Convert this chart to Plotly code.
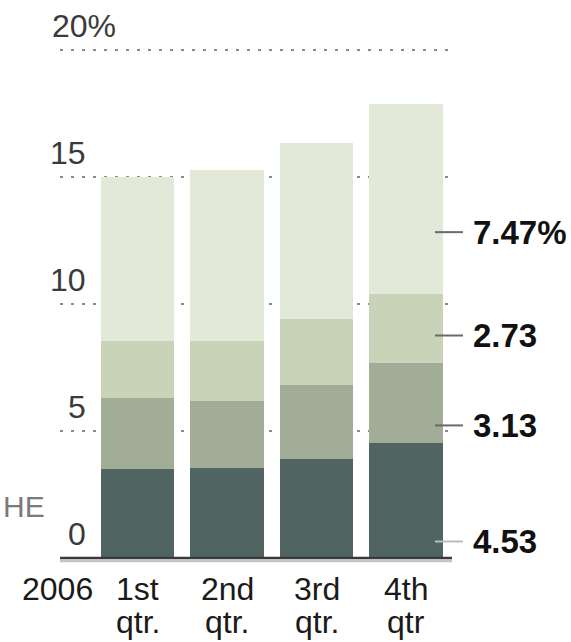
import plotly.graph_objects as go

# ---- data ----
quarters = ["1st", "2nd", "3rd", "4th"]
quarter_line2 = ["qtr.", "qtr.", "qtr.", "qtr"]
year_label = "2006"
seg_bottom = [3.49, 3.54, 3.89, 4.53]
seg_second = [2.80, 2.64, 2.92, 3.13]
seg_third = [2.27, 2.35, 2.59, 2.73]
seg_top = [6.45, 6.75, 6.95, 7.47]
y_ticks = [0, 5, 10, 15, 20]
y_tick_text = ["0", "5", "10", "15", "20%"]
right_labels = ["7.47%", "2.73", "3.13", "4.53"]

# ---- layout helpers (positions / styles) ----
right_label_y = [12.83, 8.76, 5.22, 0.65]
right_tick_colors = ["#6a6a6a", "#6a6a6a", "#6a6a6a", "#bdbdbd"]
colors = ["#506462", "#a1ad96", "#c8d3b8", "#e2e9d8"]
FONT = "Liberation Sans, Arial, Helvetica, sans-serif"

W, H = 571, 642
L, R, T, B = 60, 119, 48, 84
pw = W - L - R
ph = H - T - B


def px_x(p):
    return (p - L) / pw


def px_y(p):
    return (H - B - p) / ph


fig = go.Figure()
for vals, col in zip([seg_bottom, seg_second, seg_third, seg_top], colors):
    fig.add_trace(go.Bar(x=quarters, y=vals, marker=dict(color=col, line=dict(width=0)),
                         width=0.816, hoverinfo="skip"))

ann = []
# y tick labels above gridlines
for v, t in zip(y_ticks, y_tick_text):
    if t.endswith("%"):
        ann.append(dict(x=px_x(50), xref="paper", xanchor="left", y=v, yref="y",
                        yanchor="middle", yshift=24, text=t, showarrow=False,
                        font=dict(family=FONT, size=32, color="#3a3a3a")))
    else:
        ann.append(dict(x=px_x(88), xref="paper", xanchor="right", y=v, yref="y",
                        yanchor="middle", yshift=24, text=t, showarrow=False,
                        font=dict(family=FONT, size=32, color="#3a3a3a")))

# x labels (two lines)
for q, q2 in zip(quarters, quarter_line2):
    ann.append(dict(x=q, xref="x", xanchor="center", y=px_y(589), yref="paper",
                    yanchor="middle", text=q, showarrow=False,
                    font=dict(family=FONT, size=32, color="#1a1a1a")))
    ann.append(dict(x=q, xref="x", xanchor="center", y=px_y(622), yref="paper",
                    yanchor="middle", text=q2, showarrow=False,
                    font=dict(family=FONT, size=32, color="#1a1a1a")))
ann.append(dict(x=px_x(95), xref="paper", xanchor="right", y=px_y(589), yref="paper",
                yanchor="middle", text=year_label, showarrow=False,
                font=dict(family=FONT, size=32, color="#1a1a1a")))

# partial word at left edge
ann.append(dict(x=px_x(1), xref="paper", xanchor="left", y=px_y(506), yref="paper",
                yanchor="middle", text="HE", showarrow=False,
                font=dict(family=FONT, size=30, color="#7a7a7a")))

shapes = []
# right labels with tick marks
for lbl, ly, tc in zip(right_labels, right_label_y, right_tick_colors):
    ann.append(dict(x=px_x(471), xref="paper", xanchor="left", y=ly, yref="y",
                    yanchor="middle", text="<b>%s</b>" % lbl, showarrow=False,
                    font=dict(family=FONT, size=33, color="#111111")))
    shapes.append(dict(type="line", xref="paper", yref="y", x0=px_x(435), x1=px_x(463),
                       y0=ly, y1=ly, line=dict(color=tc, width=2)))

# baseline
shapes.append(dict(type="line", xref="paper", yref="paper", x0=0, x1=1,
                   y0=px_y(561), y1=px_y(561), line=dict(color="#c4c4c4", width=2.5)))
shapes.append(dict(type="line", xref="paper", yref="paper", x0=0, x1=1,
                   y0=px_y(558), y1=px_y(558), line=dict(color="#3a3a3a", width=2.5)))

fig.update_layout(
    width=W, height=H,
    margin=dict(l=L, r=R, t=T, b=B, pad=0),
    barmode="stack", bargap=0,
    showlegend=False,
    paper_bgcolor="white", plot_bgcolor="white",
    annotations=ann, shapes=shapes,
    xaxis=dict(range=[-0.866, 3.514], showticklabels=False, showgrid=False,
               zeroline=False, showline=False, ticks=""),
    yaxis=dict(range=[0, 20.08], tickvals=y_ticks, showticklabels=False, showgrid=True,
               gridcolor="#8a8a8a", gridwidth=2, griddash="3px,8px",
               zeroline=False, showline=False, ticks=""),
)

fig.write_html("out.html")
